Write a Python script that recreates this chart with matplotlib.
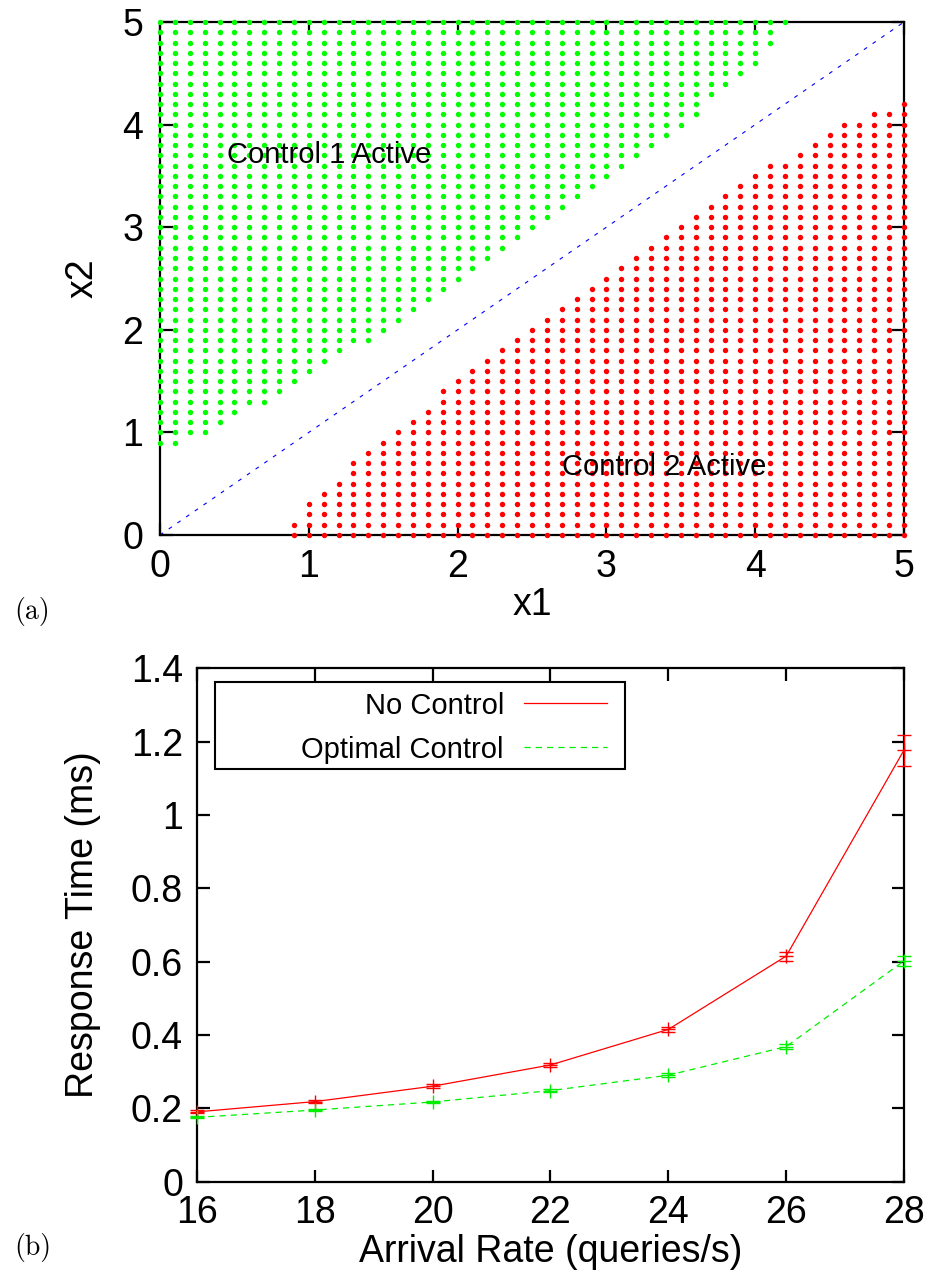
import numpy as np
import matplotlib
matplotlib.use("Agg")
import matplotlib.pyplot as plt
from matplotlib.patches import Rectangle

plt.rcParams['font.family'] = ['Liberation Sans', 'DejaVu Sans']

# ---------------- (a) switching regions ----------------
grid = np.round(np.linspace(0, 5, 51), 1)          # 0.1 lattice on [0, 5]

# Control 1 region: for each x2 row, the largest x1 that is still active
green_rows_x2 = [0.9, 1.0, 1.1, 1.2, 1.3, 1.4, 1.5, 1.6, 1.7, 1.8, 1.9, 2.0, 2.1, 2.2,
                 2.3, 2.4, 2.5, 2.6, 2.7, 2.8, 2.9, 3.0, 3.1, 3.2, 3.3, 3.4, 3.5, 3.6,
                 3.7, 3.8, 3.9, 4.0, 4.1, 4.2, 4.3, 4.4, 4.5, 4.6, 4.7, 4.8, 4.9, 5.0]
green_max_x1 = [0.1, 0.3, 0.4, 0.5, 0.7, 0.8, 0.9, 1.0, 1.1, 1.2, 1.4, 1.5, 1.6, 1.7,
                1.8, 1.9, 2.0, 2.1, 2.2, 2.3, 2.4, 2.5, 2.6, 2.7, 2.8, 2.9, 3.0, 3.1,
                3.2, 3.3, 3.4, 3.5, 3.6, 3.6, 3.7, 3.8, 3.9, 4.0, 4.0, 4.1, 4.1, 4.2]

# Control 2 region: for each x1 column, the largest x2 that is still active
red_cols_x1 = [0.9, 1.0, 1.1, 1.2, 1.3, 1.4, 1.5, 1.6, 1.7, 1.8, 1.9, 2.0, 2.1, 2.2,
               2.3, 2.4, 2.5, 2.6, 2.7, 2.8, 2.9, 3.0, 3.1, 3.2, 3.3, 3.4, 3.5, 3.6,
               3.7, 3.8, 3.9, 4.0, 4.1, 4.2, 4.3, 4.4, 4.5, 4.6, 4.7, 4.8, 4.9, 5.0]
red_max_x2 = [0.1, 0.3, 0.4, 0.5, 0.7, 0.8, 0.9, 1.0, 1.1, 1.2, 1.4, 1.5, 1.6, 1.7,
              1.8, 1.9, 2.0, 2.1, 2.2, 2.3, 2.4, 2.5, 2.6, 2.7, 2.8, 2.9, 3.0, 3.1,
              3.2, 3.3, 3.4, 3.5, 3.6, 3.6, 3.7, 3.8, 3.9, 4.0, 4.0, 4.1, 4.1, 4.2]

# ---------------- (b) response time ----------------
arrival_rate = [16, 18, 20, 22, 24, 26, 28]
no_control = [0.190, 0.218, 0.260, 0.318, 0.415, 0.615, 1.177]
no_control_err = [0.004, 0.004, 0.005, 0.005, 0.007, 0.012, 0.042]
optimal = [0.175, 0.195, 0.217, 0.248, 0.290, 0.368, 0.602]
optimal_err = [0.003, 0.003, 0.004, 0.004, 0.005, 0.007, 0.014]
series_labels = ['No Control', 'Optimal Control']

W, H = 933, 1275
fig = plt.figure(figsize=(W / 100, H / 100), dpi=100)

TICK_FS = 27
LABEL_FS = 27
NOTE_FS = 21
RED = '#ff0000'
GREEN = '#00ee00'
GREEN_DASH = (0, (5, 4))

def px_axes(left, top, right, bottom):
    return [left / W, 1 - bottom / H, (right - left) / W, (bottom - top) / H]

def style_axes(ax):
    for s in ax.spines.values():
        s.set_linewidth(1.6)
    ax.tick_params(direction='in', length=9, width=1.6, top=True, right=True,
                   labelsize=TICK_FS)

# ----- top panel -----
ax1 = fig.add_axes(px_axes(160, 22, 904, 535))
gx, gy = [], []
for y, xmax in zip(green_rows_x2, green_max_x1):
    xs = grid[grid <= xmax + 1e-9]
    gx.extend(xs)
    gy.extend([y] * len(xs))
rx, ry = [], []
for x, ymax in zip(red_cols_x1, red_max_x2):
    ys = grid[grid <= ymax + 1e-9]
    rx.extend([x] * len(ys))
    ry.extend(ys)
ax1.plot(gx, gy, linestyle='none', marker='o', ms=3.9, mew=0, color='#00ff00',
         clip_on=False, zorder=3)
ax1.plot(rx, ry, linestyle='none', marker='o', ms=3.9, mew=0, color=RED,
         clip_on=False, zorder=3)
ax1.plot([0, 5], [0, 5], color='#0000ff', lw=0.8, dashes=(3.5, 6), zorder=2)
ax1.text(0.45, 3.7, 'Control 1 Active', fontsize=NOTE_FS, va='center', ha='left', zorder=4)
ax1.text(2.70, 0.66, 'Control 2 Active', fontsize=NOTE_FS, va='center', ha='left', zorder=4)
ax1.set_xlim(0, 5)
ax1.set_ylim(0, 5)
ax1.set_xticks([0, 1, 2, 3, 4, 5])
ax1.set_yticks([0, 1, 2, 3, 4, 5])
style_axes(ax1)
ax1.tick_params(axis='x', pad=10)
ax1.tick_params(axis='y', pad=12)
ax1.set_xlabel('x1', fontsize=LABEL_FS)
ax1.set_ylabel('x2', fontsize=LABEL_FS)
ax1.xaxis.set_label_coords(0.5, -0.136)
ax1.xaxis.label.set_va('center')
ax1.yaxis.set_label_coords(-0.104, 0.5)
ax1.yaxis.label.set_va('center')

# ----- bottom panel -----
ax2 = fig.add_axes(px_axes(197, 668.4, 904, 1181.5))
ax2.errorbar(arrival_rate, no_control, yerr=no_control_err, color=RED, lw=0.9,
             marker='+', ms=10, mew=1.0, capsize=5, elinewidth=0.9, capthick=0.9,
             clip_on=False, zorder=3)
ax2.errorbar(arrival_rate, optimal, yerr=optimal_err, color=GREEN, lw=0.9,
             ls=GREEN_DASH, marker='+', ms=10, mew=1.0, capsize=5, elinewidth=0.9,
             capthick=0.9, clip_on=False, zorder=3)
ax2.set_xlim(16, 28)
ax2.set_ylim(0, 1.4)
ax2.set_xticks(arrival_rate)
ax2.set_yticks([0, 0.2, 0.4, 0.6, 0.8, 1.0, 1.2, 1.4])
ax2.set_yticklabels(['0', '0.2', '0.4', '0.6', '0.8', '1', '1.2', '1.4'])
style_axes(ax2)
ax2.tick_params(axis='x', pad=10)
ax2.tick_params(axis='y', pad=10)
ax2.set_xlabel('Arrival Rate (queries/s)', fontsize=LABEL_FS)
ax2.set_ylabel('Response Time (ms)', fontsize=LABEL_FS)
ax2.xaxis.set_label_coords(0.5, -0.137)
ax2.xaxis.label.set_va('center')
ax2.yaxis.set_label_coords(-0.161, 0.5)
ax2.yaxis.label.set_va('center')

# key box: labels right-justified, line samples to their right
key_tr = ax2.transAxes
ax2.add_patch(Rectangle((0.0255, 0.8039), 0.5799, 0.1696, transform=key_tr,
                        facecolor='white', edgecolor='black', lw=1.5, zorder=5,
                        clip_on=False))
for label, y, color, ls in [(series_labels[0], 0.9326, RED, '-'),
                            (series_labels[1], 0.8468, GREEN, GREEN_DASH)]:
    ax2.text(0.4342, y, label, transform=key_tr, ha='right', va='center_baseline',
             fontsize=NOTE_FS, zorder=6)
    ax2.plot([0.4625, 0.5799], [y, y], transform=key_tr, color=color, lw=0.9,
             ls=ls, zorder=6, clip_on=False)

fig.text(14 / W, 1 - 612 / H, '(a)', family='cmr10', fontsize=20, va='center')
fig.text(14 / W, 1 - 1248 / H, '(b)', family='cmr10', fontsize=20, va='center')

fig.savefig('out.png', dpi=100)
